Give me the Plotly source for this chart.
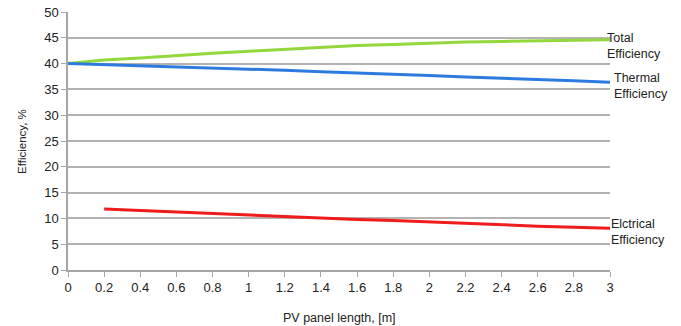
import plotly.graph_objects as go

x_vals = [0, 0.2, 0.4, 0.6, 0.8, 1.0, 1.2, 1.4, 1.6, 1.8, 2.0, 2.2, 2.4, 2.6, 2.8, 3.0]
total_eff = [40.0, 40.7, 41.1, 41.6, 42.0, 42.4, 42.8, 43.2, 43.5, 43.7, 44.0, 44.2, 44.3, 44.4, 44.5, 44.6]
thermal_eff = [40.0, 39.8, 39.6, 39.4, 39.1, 38.9, 38.7, 38.4, 38.2, 37.9, 37.7, 37.4, 37.2, 36.9, 36.7, 36.4]
x_elec = [0.2, 0.4, 0.6, 0.8, 1.0, 1.2, 1.4, 1.6, 1.8, 2.0, 2.2, 2.4, 2.6, 2.8, 3.0]
elec_eff = [11.8, 11.5, 11.2, 10.9, 10.6, 10.3, 10.0, 9.8, 9.6, 9.3, 9.0, 8.8, 8.5, 8.3, 8.1]
x_ticks = [0, 0.2, 0.4, 0.6, 0.8, 1, 1.2, 1.4, 1.6, 1.8, 2, 2.2, 2.4, 2.6, 2.8, 3]
x_tick_text = ["0", "0.2", "0.4", "0.6", "0.8", "1", "1.2", "1.4", "1.6", "1.8", "2", "2.2", "2.4", "2.6", "2.8", "3"]

font_family = "Liberation Sans, Arial, sans-serif"

fig = go.Figure()
fig.add_trace(go.Scatter(x=x_vals, y=total_eff, mode="lines", line=dict(color="#92D83A", width=3), name="Total Efficiency"))
fig.add_trace(go.Scatter(x=x_vals, y=thermal_eff, mode="lines", line=dict(color="#2E7BE0", width=3), name="Thermal Efficiency"))
fig.add_trace(go.Scatter(x=x_elec, y=elec_eff, mode="lines", line=dict(color="#EE1C1C", width=3), name="Electrical Efficiency"))

ann_font = dict(family=font_family, size=12.5, color="#222")
fig.add_annotation(x=3, y=total_eff[-1], text="Total<br>Efficiency", showarrow=False,
                   xanchor="left", yanchor="middle", xshift=-5, yshift=-6, align="left", font=ann_font)
fig.add_annotation(x=3, y=thermal_eff[-1], text="Thermal<br>Efficiency", showarrow=False,
                   xanchor="left", yanchor="middle", xshift=2, yshift=-4, align="left", font=ann_font)
fig.add_annotation(x=3, y=elec_eff[-1], text="Elctrical<br>Efficiency", showarrow=False,
                   xanchor="left", yanchor="middle", xshift=-1, yshift=-4, align="left", font=ann_font)
fig.add_annotation(xref="paper", yref="paper", x=-0.085, y=0.5, text="Efficiency, %", textangle=-90,
                   showarrow=False, xanchor="center", yanchor="middle",
                   font=dict(family=font_family, size=11.5, color="#222"))
fig.add_annotation(xref="paper", yref="paper", x=0.5, y=-0.186, text="PV panel length, [m]",
                   showarrow=False, xanchor="center", yanchor="middle",
                   font=dict(family=font_family, size=12.5, color="#222"))

fig.update_layout(
    width=681, height=326,
    margin=dict(l=68, r=71, t=12, b=56),
    paper_bgcolor="white", plot_bgcolor="white",
    showlegend=False,
    font=dict(family=font_family, size=13, color="#222"),
    xaxis=dict(range=[0, 3], tickvals=x_ticks, ticktext=x_tick_text, showgrid=False, automargin=False,
               showline=True, linecolor="#A6A6A6", linewidth=1.5,
               ticks="outside", ticklen=5, tickcolor="#A6A6A6", zeroline=False,
               tickfont=dict(size=13)),
    yaxis=dict(range=[0, 50], dtick=5, showgrid=True, gridcolor="#B3B3B3", gridwidth=1.5, automargin=False,
               showline=True, linecolor="#A6A6A6", linewidth=1.5,
               ticks="outside", ticklen=5, tickcolor="#A6A6A6", zeroline=False,
               tickfont=dict(size=13)),
)

fig.write_html("out.html", config={"displayModeBar": False},
               post_script="document.body.style.margin='0';document.body.style.overflow='hidden';")
